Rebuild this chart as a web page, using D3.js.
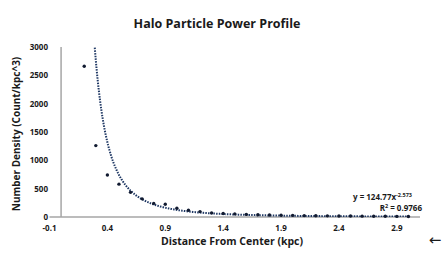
<!DOCTYPE html>
<html>
<head>
<meta charset="utf-8">
<script src="https://cdn.jsdelivr.net/npm/d3@7"></script>
<style>
  body { margin: 0; background: #fff; }
  svg text { font-family: "Open Sans", "Liberation Sans", sans-serif; fill: #1a1a1a; }
</style>
</head>
<body>
<svg id="canvas" width="444" height="262"></svg>
<script>
// distance from center (kpc) and measured number density
let distances = [0.2, 0.3, 0.4, 0.5, 0.6, 0.7, 0.8, 0.9, 1.0, 1.1, 1.2, 1.3, 1.4, 1.5, 1.6, 1.7, 1.8, 1.9,
                 2.0, 2.1, 2.2, 2.3, 2.4, 2.5, 2.6, 2.7, 2.8, 2.9, 3.0]
let densities = [2660, 1260, 740, 580, 435, 320, 240, 225, 155, 120, 95, 72, 62, 55, 46, 40, 35, 31,
                 28, 25, 22, 20, 18, 17, 15, 14, 12, 11, 10]

// power-law trendline  y = a * x^b
let fitA = 124.77
let fitB = -2.573
let fitR2 = 0.9766

let xTicks = [-0.1, 0.4, 0.9, 1.4, 1.9, 2.4, 2.9]
let yTicks = [0, 500, 1000, 1500, 2000, 2500, 3000]

let canvas = d3.select('#canvas')

let xScale = d3.scaleLinear().domain([-0.1, 3.1]).range([49.5, 420])
let yScale = d3.scaleLinear().domain([0, 3000]).range([217, 47])

// title
canvas.append('text')
    .attr('x', 217).attr('y', 28)
    .attr('text-anchor', 'middle')
    .style('font-size', '12.5px').style('font-weight', 700)
    .text('Halo Particle Power Profile')

// axes lines (y axis crosses at x = 0)
canvas.append('line')
    .attr('x1', xScale(-0.1)).attr('x2', xScale(3.1))
    .attr('y1', yScale(0)).attr('y2', yScale(0))
    .attr('stroke', '#a6a6a6').attr('stroke-width', 1.5)

canvas.append('line')
    .attr('x1', xScale(0)).attr('x2', xScale(0))
    .attr('y1', yScale(0)).attr('y2', yScale(3000))
    .attr('stroke', '#a6a6a6').attr('stroke-width', 1.5)

// tick labels
canvas.selectAll('.ytick')
    .data(yTicks)
    .enter()
    .append('text')
    .attr('class', 'ytick')
    .attr('x', 48).attr('y', d => yScale(d) + 3)
    .attr('text-anchor', 'end')
    .style('font-size', '8px').style('font-weight', 700)
    .text(d => d)

canvas.selectAll('.xtick')
    .data(xTicks)
    .enter()
    .append('text')
    .attr('class', 'xtick')
    .attr('x', d => xScale(d)).attr('y', 231)
    .attr('text-anchor', 'middle')
    .style('font-size', '8px').style('font-weight', 700)
    .text(d => d.toFixed(1))

// axis titles
canvas.append('text')
    .attr('transform', 'translate(20,134) rotate(-90)')
    .attr('text-anchor', 'middle')
    .style('font-size', '10px').style('font-weight', 700)
    .text('Number Density (Count/kpc^3)')

canvas.append('text')
    .attr('x', 232).attr('y', 245)
    .attr('text-anchor', 'middle')
    .style('font-size', '10.5px').style('font-weight', 700)
    .text('Distance From Center (kpc)')

canvas.append('text')
    .attr('x', 435).attr('y', 245)
    .attr('text-anchor', 'middle')
    .style('font-family', '"DejaVu Sans", sans-serif')
    .style('font-size', '15px')
    .text('\u2190')

// trendline, clipped to the plot area
canvas.append('clipPath').attr('id', 'plotClip')
    .append('rect')
    .attr('x', xScale(-0.1)).attr('y', yScale(3000))
    .attr('width', xScale(3.1) - xScale(-0.1)).attr('height', yScale(0) - yScale(3000))

let fitPoints = d3.range(0.2, 3.0001, 0.005).map(x => [x, fitA * Math.pow(x, fitB)])

let line = d3.line()
    .x(d => xScale(d[0]))
    .y(d => yScale(Math.min(d[1], 3300)))

canvas.append('path')
    .datum(fitPoints)
    .attr('clip-path', 'url(#plotClip)')
    .attr('d', line)
    .attr('fill', 'none')
    .attr('stroke', '#1f3864')
    .attr('stroke-width', 2)
    .attr('stroke-dasharray', '1.5,1.2')

// data points
canvas.selectAll('.dot')
    .data(distances.map((d, i) => [d, densities[i]]))
    .enter()
    .append('circle')
    .attr('class', 'dot')
    .attr('cx', d => xScale(d[0]))
    .attr('cy', d => yScale(d[1]))
    .attr('r', 1.7)
    .attr('fill', '#111a30')

// trendline equation
let eq = canvas.append('text')
    .attr('x', 412).attr('y', 200)
    .attr('text-anchor', 'end')
    .style('font-size', '8px').style('font-weight', 700)
eq.append('tspan').text('y = ' + fitA + 'x')
eq.append('tspan')
    .attr('dy', -3).style('font-size', '5.5px')
    .text(fitB)

let r2 = canvas.append('text')
    .attr('x', 422).attr('y', 211)
    .attr('text-anchor', 'end')
    .style('font-size', '8px').style('font-weight', 700)
r2.append('tspan').text('R')
r2.append('tspan').attr('dy', -3).style('font-size', '5.5px').text('2')
r2.append('tspan').attr('dy', 3).text(' = ' + fitR2)
</script>
</body>
</html>
